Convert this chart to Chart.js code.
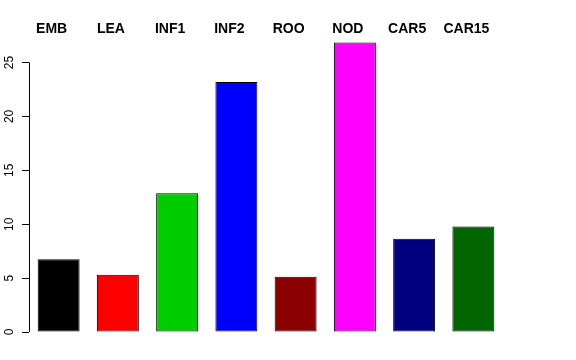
<!DOCTYPE html>
<html><head><meta charset="utf-8">
<script src="https://cdn.jsdelivr.net/npm/chart.js@4"></script>
<style>html,body{margin:0;padding:0;background:#fff}#w{width:576px;height:360px}</style>
</head><body><div id="w"><canvas id="c"></canvas></div>
<script>
const categories = ["EMB","LEA","INF1","INF2","ROO","NOD","CAR5","CAR15"];
const values = [6.74, 5.31, 12.87, 23.2, 5.13, 26.85, 8.65, 9.8];
const barColors = ["#000000","#FF0000","#00CD00","#0000FF","#8B0000","#FF00FF","#000080","#006400"];
const yTicks = [0,5,10,15,20,25];

const topLabels = {
  id:'topLabels',
  afterDraw(chart){
    const ctx = chart.ctx, xs = chart.scales.x;
    ctx.save();
    ctx.font = 'bold 14px "Liberation Sans", Arial, sans-serif';
    ctx.fillStyle = '#000';
    ctx.textAlign = 'center';
    ctx.textBaseline = 'middle';
    categories.forEach((c,i)=>{ ctx.fillText(c, xs.getPixelForValue(i) - 7, 29); });
    ctx.restore();
  }
};
const yAxisLine = {
  id:'yAxisLine',
  afterDraw(chart){
    const ctx = chart.ctx, ys = chart.scales.y;
    const x = Math.round(ys.right) + 0.5;
    ctx.save();
    ctx.strokeStyle = '#000'; ctx.lineWidth = 1;
    ctx.beginPath();
    ctx.moveTo(x, ys.getPixelForValue(yTicks[0]));
    ctx.lineTo(x, ys.getPixelForValue(yTicks[yTicks.length-1]));
    ctx.stroke();
    ctx.restore();
  }
};

new Chart(document.getElementById('c'), {
  type:'bar',
  data:{ labels:categories, datasets:[{ data:values, backgroundColor:barColors, borderColor:'#000', borderWidth:1, borderSkipped:false, categoryPercentage:1, barPercentage:0.708 }]},
  options:{
    responsive:true, maintainAspectRatio:false, animation:false,
    layout:{ padding:{ left:0, right:73, top:41, bottom:28 } },
    plugins:{ legend:{display:false}, tooltip:{enabled:false} },
    scales:{
      x:{ display:false },
      y:{
        min:0, max:27,
        afterBuildTicks(s){ s.ticks = yTicks.map(v=>({value:v})); },
        afterFit(s){ s.width = 29; },
        border:{ display:false },
        grid:{ drawOnChartArea:false, drawTicks:true, tickLength:7, color:'#000' },
        ticks:{ minRotation:90, maxRotation:90, crossAlign:'center', color:'#000', padding:6, font:{ family:'"Liberation Sans", Arial, sans-serif', size:12 } }
      }
    }
  },
  plugins:[topLabels, yAxisLine]
});
</script></body></html>
